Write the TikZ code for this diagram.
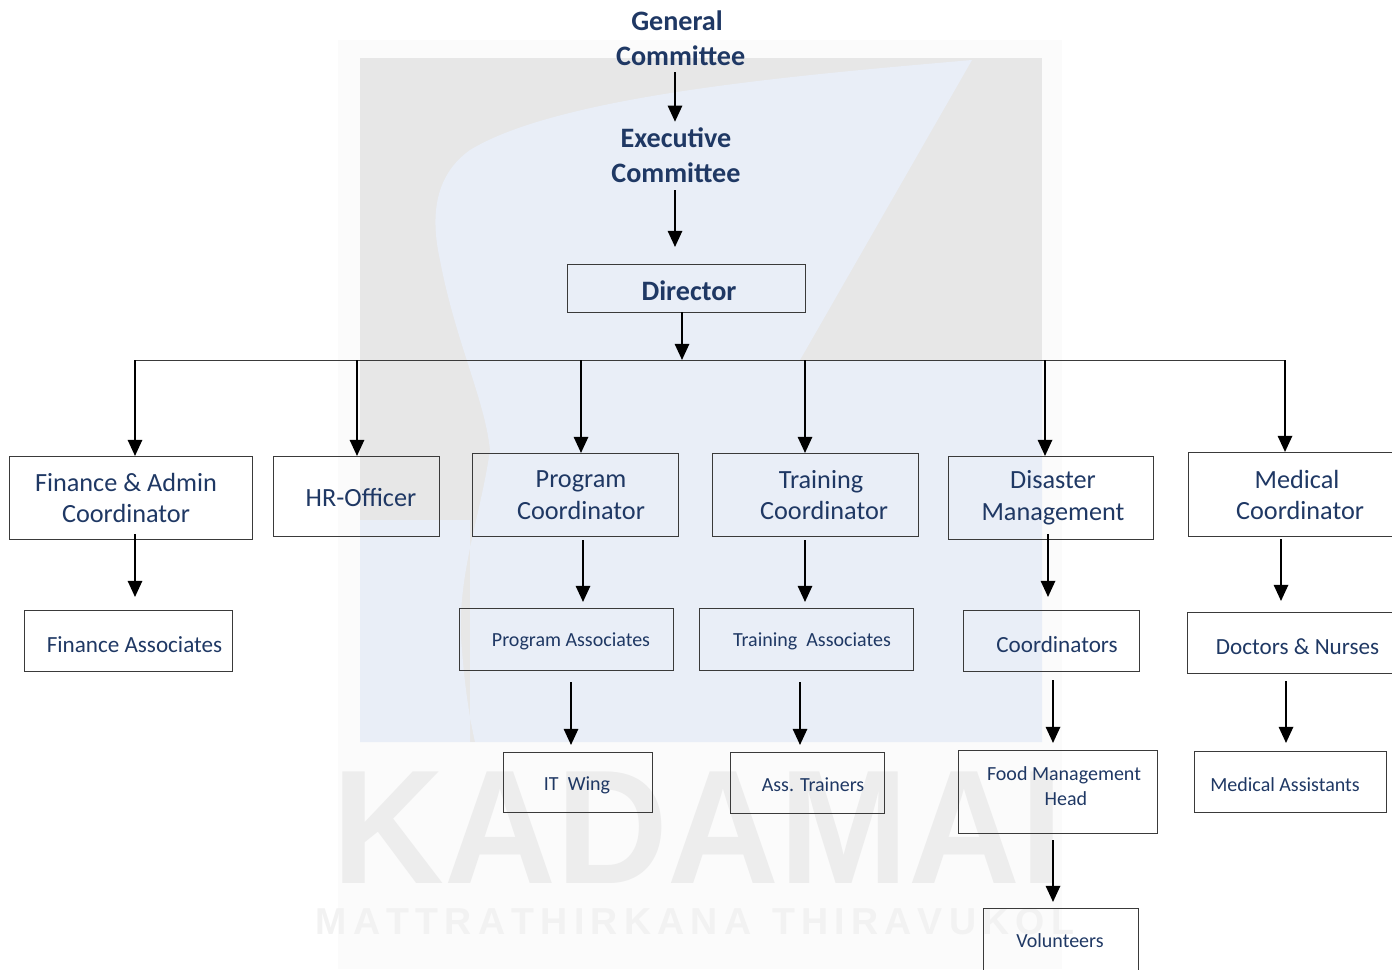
\documentclass[tikz,border=0pt]{standalone}
\usepackage{fontspec}
\setmainfont{Carlito}
\newfontfamily\markfont{Liberation Sans}
\usetikzlibrary{arrows.meta}
\definecolor{boxtext}{HTML}{1F3864}
\definecolor{boxedge}{HTML}{3A3A3A}
\definecolor{markgrey}{HTML}{E7E7E7}
\definecolor{markblue}{HTML}{E9EEF7}
\tikzset{
  box/.style 2 args={draw=boxedge,line width=0.8pt,minimum width=#1*0.8pt,minimum height=#2*0.8pt},
  headtext/.style={text=boxtext,font=\fontsize{22.5}{28}\selectfont\bfseries,align=center},
  bigtext/.style={text=boxtext,font=\fontsize{21}{25.5}\selectfont,align=center},
  midtext/.style={text=boxtext,font=\fontsize{18.5}{22}\selectfont,align=center},
  smalltext/.style={text=boxtext,font=\fontsize{16}{20}\selectfont,align=center},
  tree/.style={draw=black,line width=1.7pt,-{Triangle[width=11.5pt,length=13pt]}},
  busline/.style={draw=boxedge,line width=0.8pt}
}
\begin{document}
\begin{tikzpicture}[y=0.80pt, x=0.80pt, yscale=-1.000000, xscale=1.000000, inner sep=0pt, outer sep=0pt]
  \useasboundingbox (0,0) rectangle (1392,969);
  % watermark
  \path[fill=black!1.5] (338,40) rectangle (1062,969);
  \path[fill=markgrey] (360,58) rectangle (1042,742);
  \path[fill=markblue] (972,60) .. controls (800,75) and (560,95) .. (470,150)
    .. controls (435,175) and (430,215) .. (440,260) .. controls (455,340) and (485,400) .. (490,450)
    .. controls (480,520) and (455,580) .. (462,650) .. controls (465,690) and (470,720) .. (475,742)
    -- (360,742) -- (360,520) -- (470,520) -- (470,742) -- (1042,742) -- (1042,360) -- (800,360) -- cycle;
  \node[font=\markfont\bfseries,text=black!7,xscale=1.05,yscale=1.1] (markname) at (698,828) {\fontsize{118}{118}\selectfont KADAMAI};
  \node[font=\markfont\bfseries,text=black!5] (markline) at (695,922) {\fontsize{30}{30}\selectfont M\,A\,T\,T\,R\,A\,T\,H\,I\,R\,K\,A\,N\,A\ \ T\,H\,I\,R\,A\,V\,U\,K\,O\,L};

  % boxes
  \node[box={238}{48}] (director) at (686,288) {};
  \node[box={243}{83}] (finance) at (130.5,497.5) {};
  \node[box={166}{80}] (hrofficer) at (356,496) {};
  \node[box={206}{83}] (program) at (575,494.5) {};
  \node[box={206}{83}] (training) at (815,494.5) {};
  \node[box={205}{83}] (disaster) at (1050.5,497.5) {};
  \node[box={210}{84}] (medical) at (1293,494) {};
  \node[box={208}{61}] (financeassoc) at (128,640.5) {};
  \node[box={214}{62}] (programassoc) at (566,639) {};
  \node[box={214}{62}] (trainingassoc) at (806,639) {};
  \node[box={176}{61}] (coordinators) at (1051,640.5) {};
  \node[box={210}{61}] (doctors) at (1292,642.5) {};
  \node[box={149}{60}] (itwing) at (577.5,782) {};
  \node[box={154}{61}] (trainers) at (807,782.5) {};
  \node[box={199}{83}] (foodhead) at (1057.5,791.5) {};
  \node[box={192}{61}] (medassist) at (1290,781.5) {};
  \node[box={155}{70}] (volunteers) at (1060.5,943) {};

  % labels
  \node[headtext] (generaltext) at (677,38) {General\\\kern6pt Committee};
  \node[headtext] (executivetext) at (676,155) {Executive\\Committee};
  \node[headtext] (directortext) at (689,291) {Director};
  \node[bigtext] (financetext) at (126,498) {Finance \& Admin\\Coordinator};
  \node[bigtext] (hrtext) at (361,498) {HR-Officer};
  \node[bigtext] (programtext) at (581,495) {Program\\Coordinator};
  \node[bigtext] (trainingtext) at (821,495) {Training\\\kern5pt Coordinator};
  \node[bigtext] (disastertext) at (1053,498) {Disaster\\Management};
  \node[bigtext] (medicaltext) at (1297,495) {Medical\\\kern5pt Coordinator};
  \node[midtext] (financeassoctext) at (134.5,645) {Finance Associates};
  \node[smalltext] (programassoctext) at (571,641) {Program Associates};
  \node[smalltext] (trainingassoctext) at (812,641) {Training\ \ Associates};
  \node[midtext] (coordinatorstext) at (1057,645) {Coordinators};
  \node[midtext] (doctorstext) at (1297.5,647) {Doctors \& Nurses};
  \node[smalltext] (itwingtext) at (577,785) {IT\ \ Wing};
  \node[smalltext] (trainerstext) at (813,785) {Ass. Trainers};
  \node[smalltext] (foodheadtext) at (1064,786) {Food Management\\\kern3pt Head};
  \node[smalltext] (medassisttext) at (1285,785) {Medical Assistants};
  \node[smalltext] (volunteerstext) at (1060,941) {Volunteers};

  % bus
  \coordinate (busleft) at (134,360);
  \coordinate (busright) at (1285.5,360);
  \path[busline] (busleft) -- (busright);
  \foreach \x/\n in {135/finance,357/hrofficer,581/program,805/training,1045/disaster,1285/medical} {
    \coordinate (bus\n) at (\x,360);
    \draw[tree] (bus\n) -- (bus\n |- \n.north);
  }
  \draw[tree] (682,0 |- director.south) -- (682,0 |- busleft);

  % arrows between boxes, these do not touch
  \foreach \x/\a/\b/\gapa/\gapb in {
    135/finance/financeassoc/-4/10.4,
    583/program/programassoc/3.2/4.8,
    805/training/trainingassoc/3.2/4.8,
    1048/disaster/coordinators/-4/10.4,
    1281/medical/doctors/2.4/8.8,
    571/programassoc/itwing/9.6/5.6,
    800/trainingassoc/trainers/9.6/5.6,
    1053/coordinators/foodhead/7.2/5.6,
    1286/doctors/medassist/6.4/6.4,
    1053/foodhead/volunteers/5.6/4.8} {
    \draw[tree,shorten <=\gapa pt,shorten >=\gapb pt] (\x,0 |- \a.south) -- (\x,0 |- \b.north);
  }
  \draw[tree,shorten <=5.6pt,shorten >=1pt] (675,0 |- generaltext.south) -- (675,123);
  \draw[tree,shorten <=6.4pt,shorten >=13.6pt] (675,0 |- executivetext.south) -- (675,0 |- director.north);
\end{tikzpicture}
\end{document}
